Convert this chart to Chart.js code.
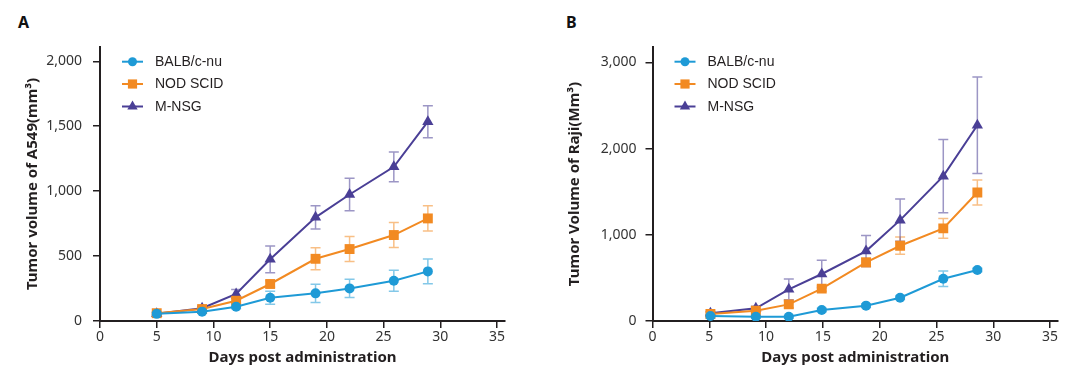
<!DOCTYPE html>
<html>
<head>
<meta charset="utf-8">
<script src="https://cdn.jsdelivr.net/npm/chart.js@4.4.0/dist/chart.umd.min.js"></script>
<style>
  html, body { margin: 0; padding: 0; background: #fff; }
  body { width: 1080px; height: 372px; position: relative; overflow: hidden; }
  .panel { position: absolute; top: 0; width: 540px; height: 372px; }
  .tag { position: absolute; top: 11px; font: bold 16px "Noto Sans", sans-serif; color: #111; }
</style>
</head>
<body>
<div class="tag" style="left:18px">A</div>
<div class="tag" style="left:566px">B</div>
<div class="panel" style="left:0"><canvas id="chartA" width="540" height="372"></canvas></div>
<div class="panel" style="left:540px"><canvas id="chartB" width="540" height="372"></canvas></div>
<script>
// ---- data ----
var seriesNames = ['BALB/c-nu', 'NOD SCID', 'M-NSG'];
var xTicks = [0, 5, 10, 15, 20, 25, 30, 35];

// panel A: A549
var daysA = [5, 9, 12, 15, 19, 22, 25.9, 28.9];
var balbA = [55, 72, 110, 179, 213, 251, 310, 382];
var nodA = [60, 92, 156, 285, 479, 554, 662, 790];
var nsgA = [55, 98, 208, 475, 798, 974, 1187, 1535];
var balbErrA = [10, 10, 15, 50, 70, 70, 80, 95];
var nodErrA = [10, 15, 20, 25, 85, 96, 96, 97];
var nsgErrA = [10, 15, 35, 103, 90, 125, 115, 123];
var yTicksA = [0, 500, 1000, 1500, 2000];

// panel B: Raji
var daysB = [5.1, 9.1, 12, 14.9, 18.8, 21.8, 25.6, 28.6];
var balbB = [58, 50, 50, 127, 178, 270, 490, 591];
var nodB = [81, 119, 193, 375, 680, 873, 1074, 1491];
var nsgB = [89, 147, 367, 545, 811, 1170, 1680, 2271];
var balbErrB = [20, 15, 15, 20, 20, 20, 90, 20];
var nodErrB = [20, 20, 40, 30, 50, 100, 115, 145];
var nsgErrB = [20, 25, 120, 160, 180, 245, 425, 560];
var yTicksB = [0, 1000, 2000, 3000];

var colors = ['#1e9ad6', '#f28a22', '#4a3f96'];
var errColors = ['rgba(30,154,214,0.55)', 'rgba(242,138,34,0.55)', 'rgba(74,63,150,0.55)'];
var markers = ['circle', 'rect', 'triangle'];
var markerSize = [5, 7, 6.5];
var ink = '#231f20';

function toPoints(xs, ys) {
  return xs.map(function(x, i) { return { x: x, y: ys[i] }; });
}

function makeDatasets(days, lists, errs) {
  return lists.map(function(vals, k) {
    return {
      label: seriesNames[k],
      data: toPoints(days, vals),
      err: errs[k],
      borderColor: colors[k],
      backgroundColor: colors[k],
      borderWidth: 2,
      pointStyle: markers[k],
      pointRadius: markerSize[k],
      pointBorderWidth: 0,
      tension: 0
    };
  });
}

// error bars, drawn under the lines
var errorBars = {
  id: 'errorBars',
  beforeDatasetsDraw: function(chart) {
    var c = chart.ctx, xs = chart.scales.x, ys = chart.scales.y;
    chart.data.datasets.forEach(function(ds, k) {
      c.save();
      c.strokeStyle = errColors[k];
      c.lineWidth = 1.5;
      ds.data.forEach(function(p, i) {
        var e = ds.err[i];
        var px = xs.getPixelForValue(p.x);
        var top = ys.getPixelForValue(p.y + e);
        var bot = ys.getPixelForValue(Math.max(0, p.y - e));
        c.beginPath();
        c.moveTo(px, top); c.lineTo(px, bot);
        c.moveTo(px - 5, top); c.lineTo(px + 5, top);
        c.moveTo(px - 5, bot); c.lineTo(px + 5, bot);
        c.stroke();
      });
      c.restore();
    });
  }
};

// legend inside the plot, upper left
var innerLegend = {
  id: 'innerLegend',
  afterDraw: function(chart) {
    var c = chart.ctx, left = chart.chartArea.left + 22;
    var rows = [61.7, 84, 106.5];
    c.save();
    chart.data.datasets.forEach(function(ds, k) {
      var y = rows[k];
      c.strokeStyle = colors[k];
      c.lineWidth = 2;
      c.beginPath(); c.moveTo(left, y); c.lineTo(left + 21, y); c.stroke();
      c.fillStyle = colors[k];
      Chart.helpers.drawPoint(c, { pointStyle: markers[k], radius: markerSize[k] - 0.5, borderWidth: 0 }, left + 10.5, y);
      c.fillStyle = ink;
      c.font = '14px "Liberation Sans", Arial, sans-serif';
      c.textBaseline = 'middle';
      c.textAlign = 'left';
      c.fillText(ds.label, left + 33, y + 0.5);
    });
    c.restore();
  }
};

function makeChart(id, days, lists, errs, yTicks, yMax, yTitle, opts) {
  return new Chart(document.getElementById(id), {
    type: 'line',
    data: { datasets: makeDatasets(days, lists, errs) },
    plugins: [errorBars, innerLegend],
    options: {
      responsive: false,
      animation: false,
      layout: { padding: { left: 0, top: 47, right: opts.right, bottom: 0 } },
      plugins: { legend: { display: false }, tooltip: { enabled: false } },
      scales: {
        x: {
          type: 'linear', min: 0, max: 35.7,
          afterBuildTicks: function(s) { s.ticks = xTicks.map(function(v) { return { value: v }; }); },
          afterFit: function(s) { s.height = 51; },
          border: { color: ink, width: 2 },
          grid: { drawOnChartArea: false, drawTicks: true, tickLength: 7, color: ink, lineWidth: 1.5 },
          ticks: { maxRotation: 0, autoSkip: false, padding: 1, color: '#333',
                   font: { family: '"Noto Sans", sans-serif', size: 14 } },
          title: { display: true, text: 'Days post administration', color: ink, padding: { top: 0, bottom: 5 },
                   font: { family: '"Noto Sans", sans-serif', size: 15, weight: 'bold' } }
        },
        y: {
          type: 'linear', min: 0, max: yMax,
          afterBuildTicks: function(s) { s.ticks = yTicks.map(function(v) { return { value: v }; }); },
          afterFit: function(s) { s.width = opts.yWidth; },
          border: { color: ink, width: 2 },
          grid: { drawOnChartArea: false, drawTicks: true, tickLength: 7, color: ink, lineWidth: 1.5 },
          ticks: { padding: opts.tickPad, color: '#333',
                   font: { family: '"Noto Sans", sans-serif', size: 14 },
                   callback: function(v) { return Number(v).toLocaleString('en-US'); } },
          title: { display: true, text: yTitle, color: ink, padding: { top: opts.titlePad, bottom: 0 },
                   font: { family: '"Noto Sans", sans-serif', size: 15, weight: 'bold' } }
        }
      }
    }
  });
}

makeChart('chartA', daysA, [balbA, nodA, nsgA], [balbErrA, nodErrA, nsgErrA], yTicksA, 2110,
  'Tumor volume of A549(mm³)', { right: 35, yWidth: 100, tickPad: 11, titlePad: 24 });
makeChart('chartB', daysB, [balbB, nodB, nsgB], [balbErrB, nodErrB, nsgErrB], yTicksB, 3178,
  'Tumor Volume of Raji(Mm³)', { right: 22, yWidth: 112.5, tickPad: 9, titlePad: 26 });
</script>
</body>
</html>
